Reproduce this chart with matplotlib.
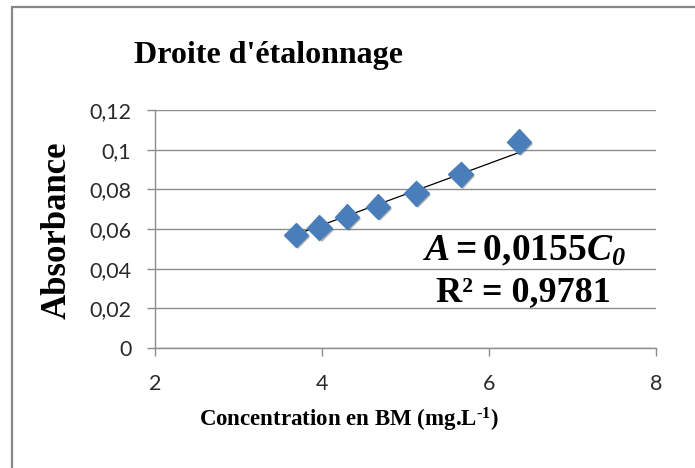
import numpy as np
import matplotlib
matplotlib.use("Agg")
import matplotlib.pyplot as plt
import matplotlib.patheffects as pe
from matplotlib.patches import Rectangle

# concentrations (mg/L) et absorbances mesurées
concentration = [3.69, 3.97, 4.30, 4.67, 5.13, 5.66, 6.36]
absorbance = [0.057, 0.0607, 0.0662, 0.0713, 0.078, 0.0876, 0.104]
pente = 0.0155
r2 = 0.9781

x_ticks = [2, 4, 6, 8]
y_ticks = [0, 0.02, 0.04, 0.06, 0.08, 0.10, 0.12]
y_tick_labels = ['0', '0,02', '0,04', '0,06', '0,08', '0,1', '0,12']

plt.rcParams['mathtext.fontset'] = 'custom'
plt.rcParams['mathtext.rm'] = 'Liberation Serif:bold'
plt.rcParams['mathtext.it'] = 'Liberation Serif:italic:bold'
# \mathbf sert ici pour l'indice en italique gras
plt.rcParams['mathtext.bf'] = 'Liberation Serif:italic:bold'

W, H = 695, 468
fig = plt.figure(figsize=(W / 100, H / 100), dpi=100)
ax = fig.add_axes([155 / W, 1 - 348 / H, (656 - 155) / W, (348 - 110) / H])

grid_col = '#8c8c8c'
serif = 'Liberation Serif'
sans = 'Lato'

# cadre du graphique
fig.patches.append(Rectangle((12 / W, -0.1), 1.2, 1 - 7 / H + 0.1, transform=fig.transFigure,
                             fill=False, edgecolor='#888888', linewidth=1.6))

# droite de régression passant par l'origine
xs = np.array([min(concentration), max(concentration)])
ax.plot(xs, pente * xs, color='black', linewidth=0.9, zorder=2)

ax.plot(concentration, absorbance, linestyle='None', marker='D', markersize=12.5,
        color='#4a7ebb', markeredgecolor='#4a7ebb', zorder=3,
        path_effects=[pe.SimplePatchShadow(offset=(1.5, -1.5), shadow_rgbFace='#555555', alpha=0.45),
                      pe.Normal()])

ax.set_xlim(2, 8)
ax.set_ylim(0, 0.12)
ax.set_xticks(x_ticks)
ax.set_yticks(y_ticks)
ax.set_yticklabels(y_tick_labels)
ax.grid(axis='y', color=grid_col, linewidth=1.0)
ax.set_axisbelow(True)
for side in ['top', 'right']:
    ax.spines[side].set_visible(False)
for side in ['left', 'bottom']:
    ax.spines[side].set_color(grid_col)
    ax.spines[side].set_linewidth(1.0)
ax.tick_params(axis='both', colors=grid_col, length=6, width=1.0, labelcolor='#2a2a2a',
               labelsize=15.5)
ax.tick_params(axis='y', pad=11)
ax.tick_params(axis='x', pad=13)
for lab in ax.get_xticklabels() + ax.get_yticklabels():
    lab.set_family(sans)

fig.text(268 / W, 1 - 55 / H, "Droite d'étalonnage", ha='center', va='center',
         family=serif, weight='bold', fontsize=23)
fig.text(57 / W, 1 - 230 / H, 'Absorbance', ha='center', va='center', rotation=90,
         family=serif, weight='bold', fontsize=25)
fig.text(349 / W, 1 - 420 / H, r'Concentration en BM (mg.L$^{\text{-1}}$)', ha='center',
         va='center', family=serif, weight='bold', fontsize=16.5)

fig.text(524 / W, 1 - 250 / H, r'$A = %s C_{\mathbf{0}}$' % ('{:.4f}'.format(pente).replace('.', '{,}')),
         ha='center', va='center', fontsize=27)
fig.text(523 / W, 1 - 293 / H, 'R² = ' + '{:.4f}'.format(r2).replace('.', ','), ha='center',
         va='center', family=serif, weight='bold', fontsize=26)

fig.savefig('out.png', dpi=100)
